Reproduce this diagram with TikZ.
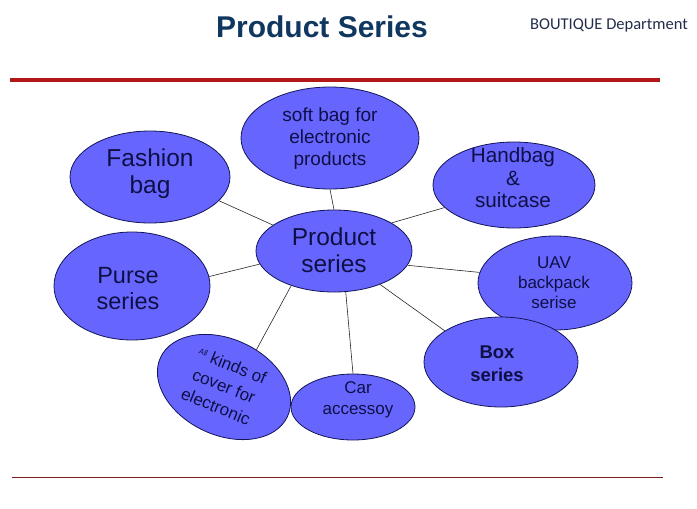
\documentclass[tikz,border=0pt]{standalone}
\usepackage{fontspec}
\setmainfont{Liberation Sans}
\newfontfamily\carlitofont{Carlito}
\usetikzlibrary{shapes.geometric}
\definecolor{fillblue}{RGB}{102,102,255}
\definecolor{edgenavy}{RGB}{20,20,90}
\definecolor{txtnavy}{RGB}{15,15,70}
\definecolor{titlenavy}{RGB}{16,55,95}
\definecolor{deptgray}{RGB}{35,45,75}
\definecolor{rulered}{RGB}{178,24,24}
\definecolor{rulebrown}{RGB}{120,30,30}
\newcommand{\fs}[2]{\fontsize{#1}{#2}\selectfont}
\begin{document}
\begin{tikzpicture}[x=1pt,y=-1pt,
  bub/.style={ellipse, draw=edgenavy, line width=0.8pt, fill=fillblue, inner sep=0pt},
  txt/.style={text=txtnavy, align=center, inner sep=0pt},
  link/.style={draw=black!85, line width=0.6pt}]
\useasboundingbox (0,0) rectangle (697,509);

% header
\node[font=\bfseries\fs{30}{34}, text=titlenavy] (title) at (322,27) {Product Series};
\node[font=\carlitofont\fs{16.5}{19}, text=deptgray] (dept) at (609,25) {BOUTIQUE Department};
\draw[rulered, line width=3.5pt] (10,80) -- (660,80);
\draw[rulebrown, line width=0.8pt] (12,477) -- (663,477);

% ellipses
\node[bub, minimum width=156, minimum height=82] (c) at (334,251) {};
\node[bub, minimum width=178, minimum height=102] (soft) at (330,138) {};
\node[bub, minimum width=160, minimum height=92] (fb) at (150,177) {};
\node[bub, minimum width=162, minimum height=86] (hb) at (514,185) {};
\node[bub, minimum width=156, minimum height=108] (purse) at (132,286) {};
\node[bub, minimum width=154, minimum height=94] (uav) at (555,283) {};
\node[bub, minimum width=154, minimum height=90] (box) at (501,362) {};
\node[bub, minimum width=124, minimum height=66] (car) at (353,407) {};
\node[bub, minimum width=140, minimum height=96, rotate=-25] (ak) at (224,387) {};

% connectors
\draw[link] (c.90) -- (soft.270);
\draw[link] (c.157) -- (fb.341);
\draw[link] (c.26) -- (hb.198);
\draw[link] (c.190) -- (purse.7);
\draw[link] (c.349) -- (uav.172);
\draw[link] (c.324) -- (box.151);
\draw[link] (c.286) -- (car.90);
\draw[link] (c.219) -- (ak.74);

% texts
\node[txt, font=\fs{24.5}{27}] (tc) at (334,250) {Product\\series};
\node[txt, font=\fs{19}{22}] (tsoft) at (330,139) {soft bag for\\electronic\\products};
\node[txt, font=\fs{24.5}{27}] (tfb) at (150,174) {Fashion\\bag};
\node[txt, font=\fs{20.7}{22.5}] (thb) at (513,178) {Handbag\\\&\\suitcase};
\node[txt, font=\fs{23.5}{26}] (tpurse) at (128,289) {Purse\\series};
\node[txt, font=\fs{17}{20}] (tuav) at (554,283) {UAV\\backpack\\serise};
\node[txt, font=\bfseries\fs{18.5}{23}] (tbox) at (497,364) {Box\\series};
\node[txt, font=\fs{17}{21}] (tcar) at (358,400) {Car\\accessoy};
\node[txt, font=\fs{17}{22}, rotate=-22] (tak) at (224,386) {\raisebox{5pt}{\fs{8}{9}All} kinds of\\cover for\\electronic};
\end{tikzpicture}
\end{document}
